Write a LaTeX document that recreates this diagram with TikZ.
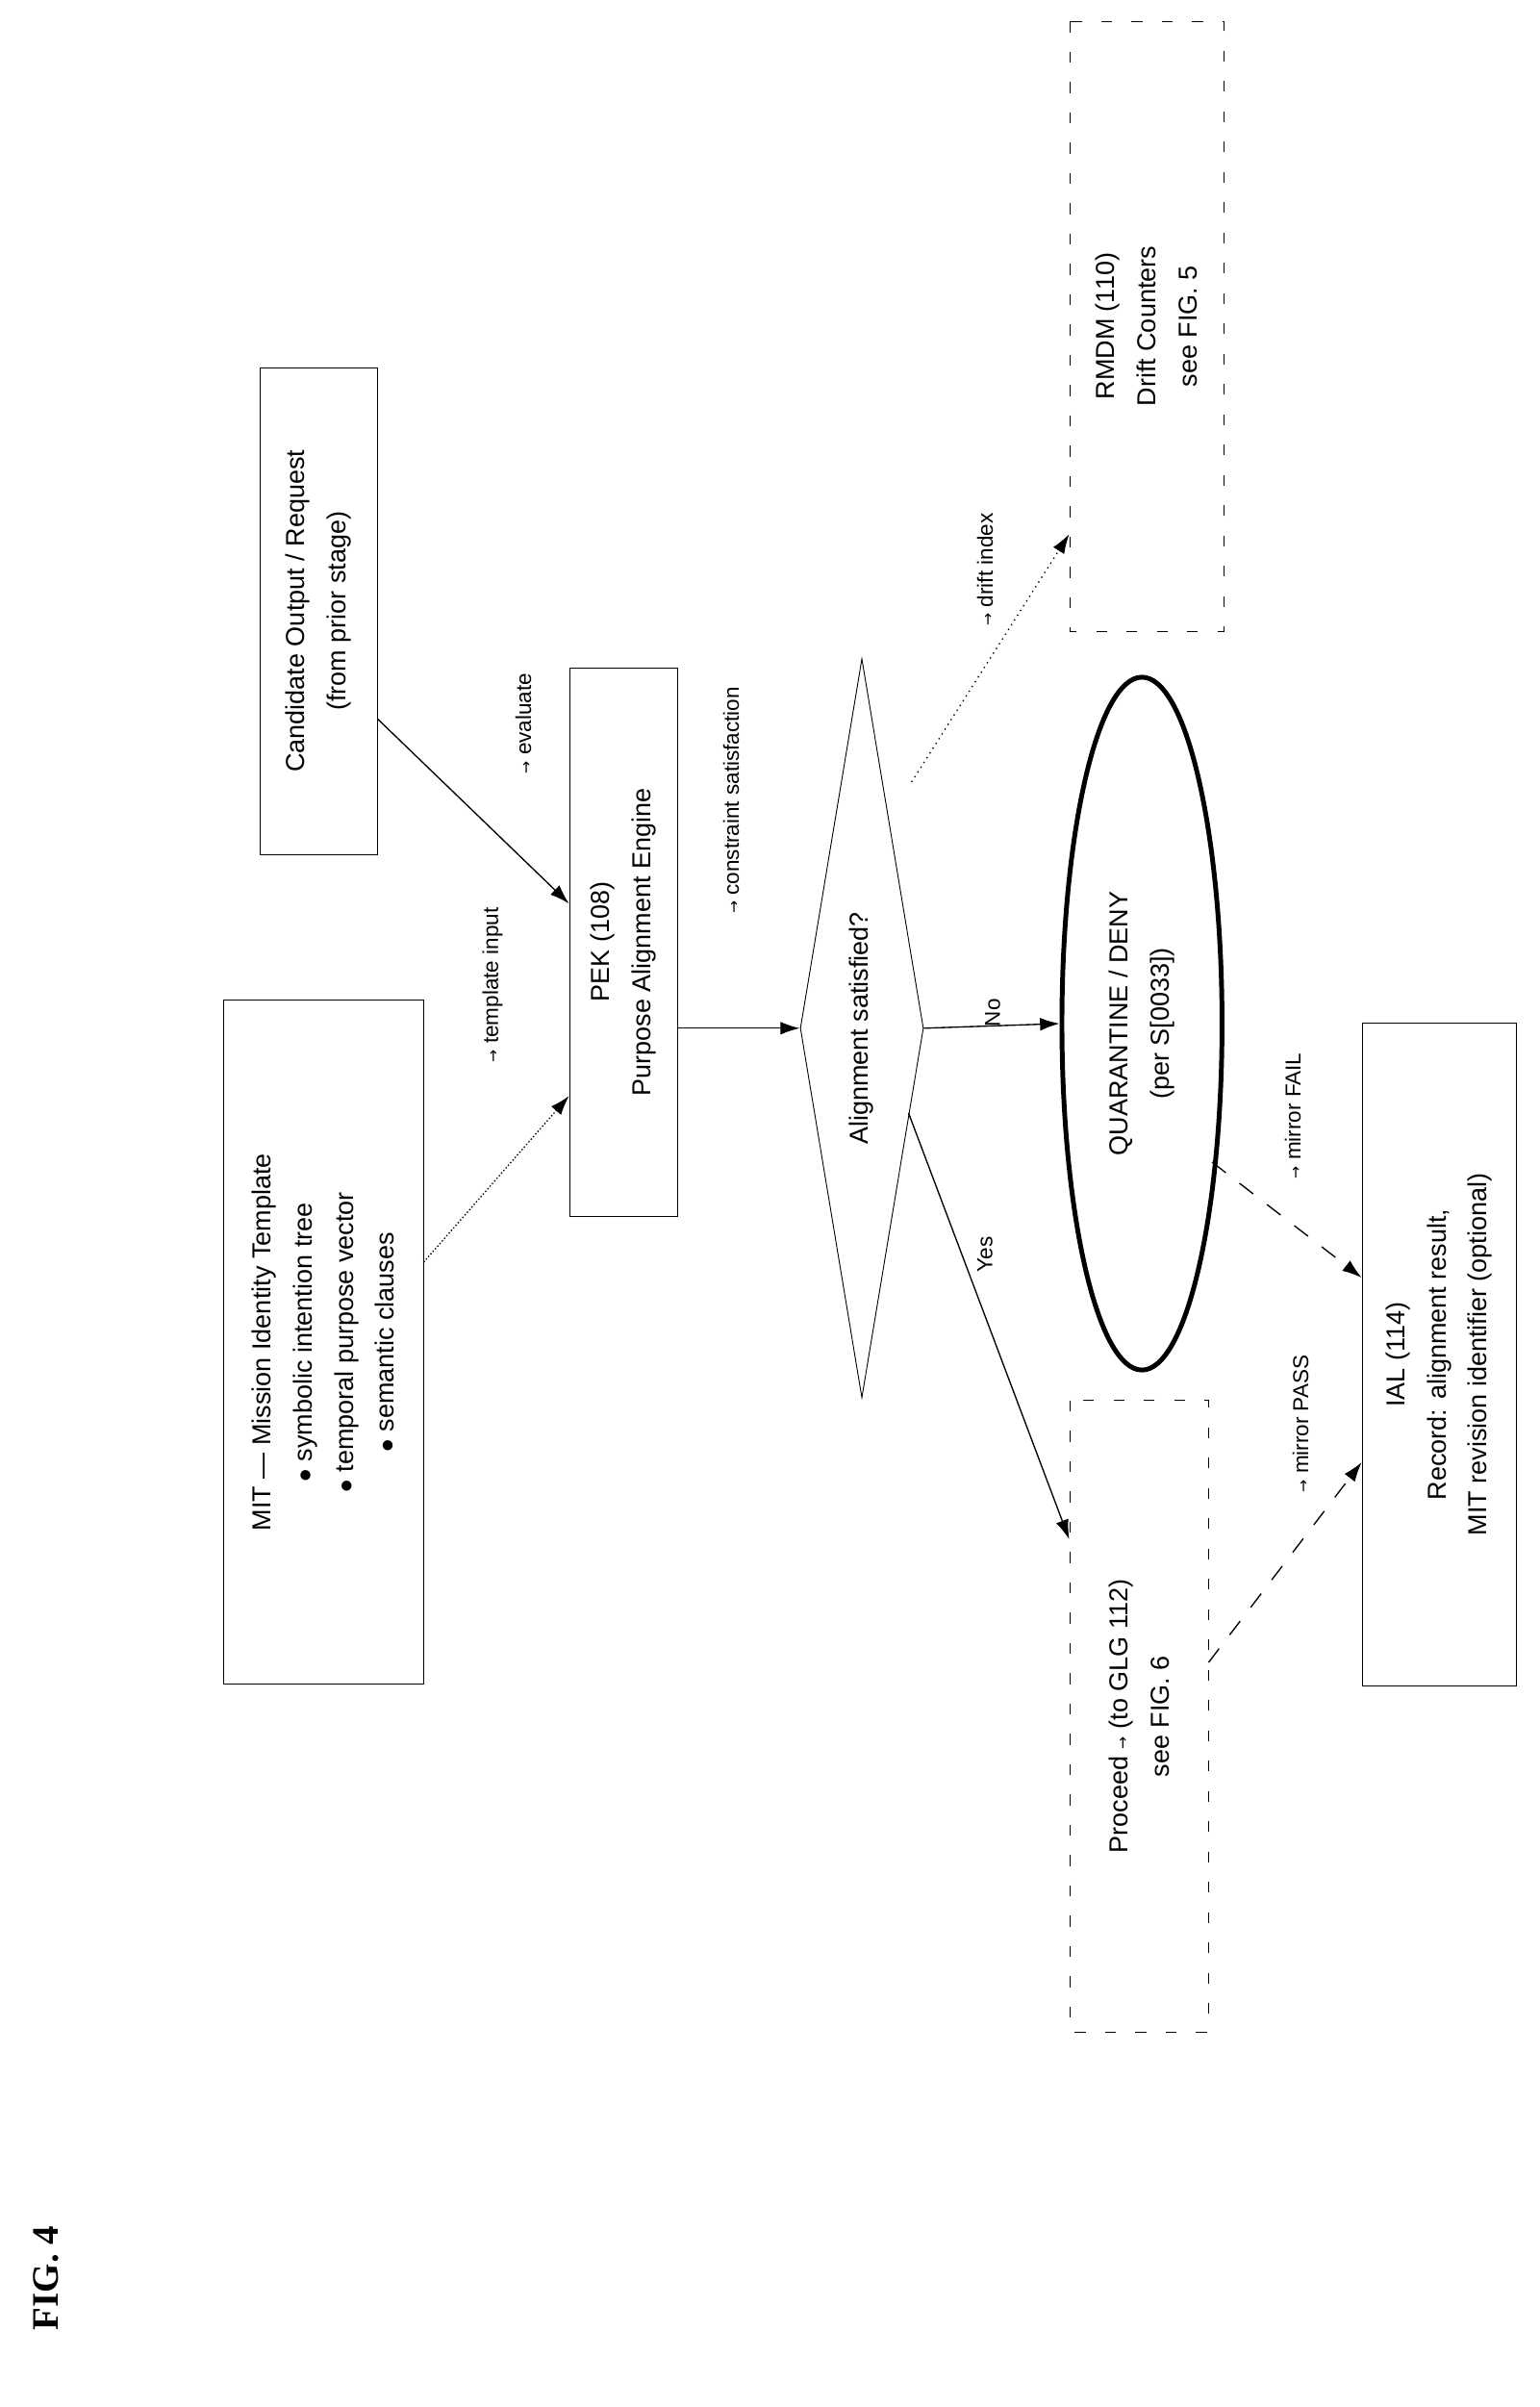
\documentclass[tikz,border=0pt]{standalone}
\usepackage{fontspec}
\setmainfont{Liberation Sans}
\newfontfamily\figfont{Liberation Serif}
\newfontfamily\arrfont{DejaVu Sans}
\usetikzlibrary{shapes.geometric,calc,arrows.meta}
\newcommand{\ra}{{\arrfont\scriptsize→}}
\begin{document}
\begin{tikzpicture}[x=0.025cm,y=-0.025cm,font=\large,
  box/.style={draw, rotate=90, align=center, inner sep=2pt,
    execute at begin node=\setlength{\baselineskip}{19pt}},
  dbox/.style={box, dash pattern=on 5pt off 9pt},
  lbl/.style={rotate=90, font=\normalsize},
  link/.style={-{Latex[length=9pt,width=6pt]}, line width=0.6pt}]

\useasboundingbox (0,0) rectangle (1000,1563.75);

%boxes of the flow
\node [box, minimum width=11.1cm, minimum height=3.25cm] (mit) at (210,872)
  {MIT --- Mission Identity Template\\ $\bullet$ symbolic intention tree\\ $\bullet$ temporal purpose vector\\ $\bullet$ semantic clauses};
\node [box, minimum width=7.9cm, minimum height=1.9cm] (cand) at (207,397)
  {Candidate Output / Request\\ (from prior stage)};
\node [box, minimum width=8.9cm, minimum height=1.75cm] (pek) at (405,612)
  {PEK (108)\\ Purpose Alignment Engine};
\node [draw, diamond, rotate=90, aspect=6, inner sep=0pt, minimum width=12cm, minimum height=2cm] (align) at (560,668)
  {Alignment satisfied?};
\node [dbox, minimum width=9.9cm, minimum height=2.5cm] (rmdm) at (745,212)
  {RMDM (110)\\ Drift Counters\\ see FIG. 5};
\node [draw, ellipse, rotate=90, align=center, line width=2.2pt, minimum width=11.25cm, minimum height=2.6cm,
  execute at begin node=\setlength{\baselineskip}{19pt}] (quar) at (742,665)
  {QUARANTINE / DENY\\ (per S[0033])};
\node [dbox, minimum width=10.25cm, minimum height=2.25cm] (proc) at (740,1115)
  {Proceed \ra{} (to GLG 112)\\ see FIG. 6};
\node [box, minimum width=10.75cm, minimum height=2.5cm] (ial) at (935,880)
  {IAL (114)\\ Record: alignment result,\\ MIT revision identifier (optional)};
\node [rotate=90, font=\figfont\bfseries\LARGE] (fig) at (30,1480) {FIG. 4};

%connectors
\draw [link, densely dotted] ($(mit.south)+(0,-52)$) -- ($(pek.north)+(0,100)$);
\draw [link] ($(cand.south)+(0,70)$) -- ($(pek.north)+(0,-25)$);
\draw [link] (pek.south |- align) -- (align.north);
\draw [link, dotted] ($(align.south)+(-8,-160)$) -- ($(rmdm.north)+(0,135)$);
\draw [link] (align.south) -- (quar.north);
\draw [link] ($(align.south)+(-10,55)$) -- ($(proc.north)+(0,-115)$);
\draw [link, dash pattern=on 8pt off 8pt] ($(quar.south)+(-8,90)$) -- ($(ial.north)+(0,-50)$);
\draw [link, dash pattern=on 8pt off 8pt] ($(proc.south)+(0,-35)$) -- ($(ial.north)+(0,70)$);

%edge labels
\node [lbl] (ltpl) at (320,640) {\ra{} template input};
\node [lbl] (leval) at (340,470) {\ra{} evaluate};
\node [lbl] (lcons) at (475,520) {\ra{} constraint satisfaction};
\node [lbl] (ldrift) at (640,370) {\ra{} drift index};
\node [lbl] (lno) at (645,658) {No};
\node [lbl] (lyes) at (640,815) {Yes};
\node [lbl] (lfail) at (840,725) {\ra{} mirror FAIL};
\node [lbl] (lpass) at (845,925) {\ra{} mirror PASS};

\end{tikzpicture}
\end{document}
